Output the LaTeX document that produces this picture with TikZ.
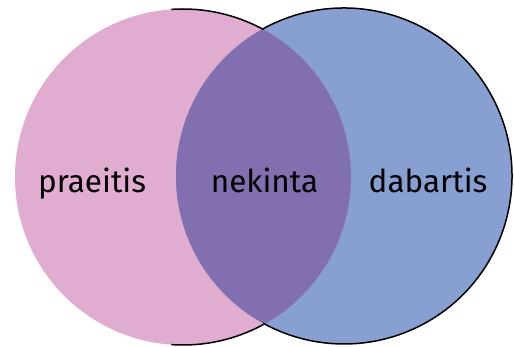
\documentclass[tikz,border=0pt]{standalone}
\usepackage{fontspec}
\setmainfont{Fira Sans}
\definecolor{pastpink}{HTML}{E0ACD0}
\definecolor{nowblue}{HTML}{879FD1}
\definecolor{samepurple}{HTML}{826FAF}

\begin{document}
\begin{tikzpicture}[x=1pt,y=-1pt,
    word/.style={anchor=base, inner sep=0pt, font=\fontsize{31.5}{36}\selectfont},
    rim/.style={black, line width=1.5pt}]
     \useasboundingbox (0,0) rectangle (514,347);
     \coordinate (L) at (183,177);
     \coordinate (R) at (344,176);
     \fill[pastpink] (L) circle (168);
     \fill[nowblue] (R) circle (168);
     \begin{scope}
       \clip (L) circle (168);
       \fill[samepurple] (R) circle (168);
     \end{scope}
     \draw[rim] (L) ++(-94:168) arc[start angle=-94, end angle=-61.4, radius=168];
     \draw[rim] (R) ++(-118.8:168) arc[start angle=-118.8, end angle=118.8, radius=168];
     \draw[rim] (L) ++(61.4:168) arc[start angle=61.4, end angle=94, radius=168];
     \node[word] (past) at (92,193) {praeitis};
     \node[word] (same) at (264.5,193) {nekinta};
     \node[word] (now) at (428,193) {dabartis};
\end{tikzpicture}
\end{document}
